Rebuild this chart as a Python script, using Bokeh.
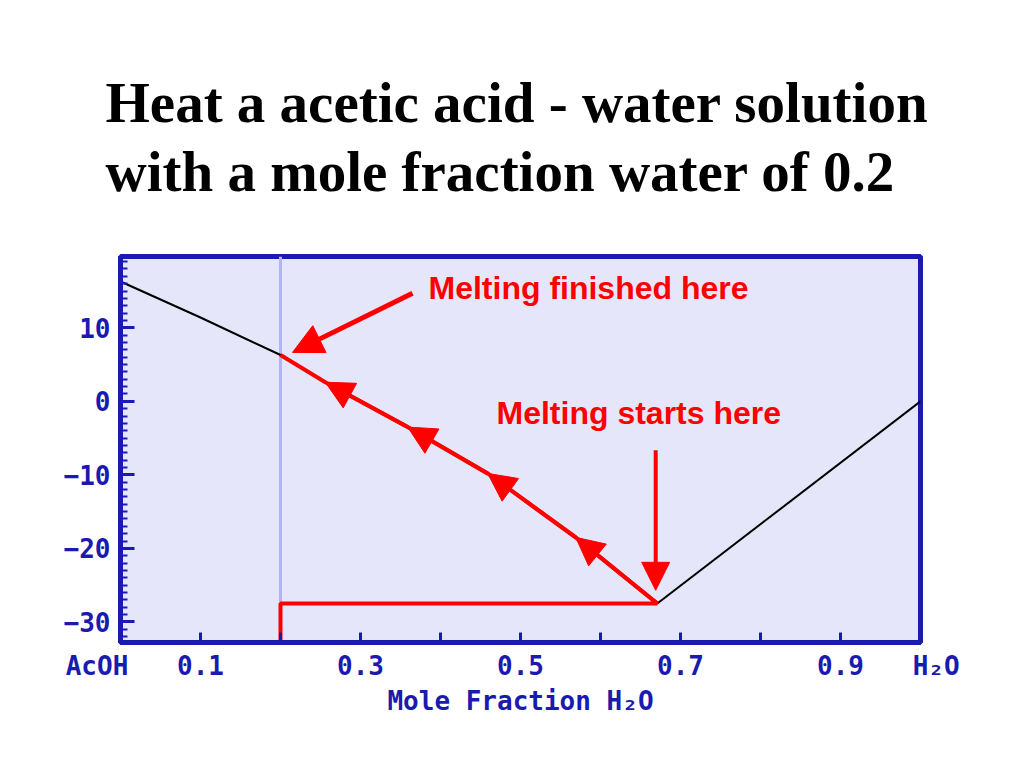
from bokeh.plotting import figure
from bokeh.models import (Range1d, FixedTicker, Title, Arrow, NormalHead, Span, Label)
from bokeh.embed import file_html
from bokeh.resources import INLINE

# ---- data ----
title_text = "Heat a acetic acid - water solution\nwith a mole fraction water of 0.2"
x_ticks = [0.0, 0.1, 0.2, 0.3, 0.4, 0.5, 0.6, 0.7, 0.8, 0.9, 1.0]
x_tick_labels = ["AcOH\u00a0\u00a0\u00a0", "0.1", "", "0.3", "", "0.5", "", "0.7", "", "0.9", "\u00a0\u00a0H\u2082O"]
y_ticks = [-30, -20, -10, 0, 10]
y_minor = list(range(-32, 20))

# liquidus, acetic acid side (x = mole fraction water, y = deg C)
liq_x = [0.0, 0.1, 0.2, 0.256, 0.359, 0.459, 0.569, 0.671]
liq_y = [16.3, 11.4, 6.3, 2.6, -3.5, -9.8, -18.5, -27.5]
# liquidus, water side
ice_x = [0.671, 1.0]
ice_y = [-27.5, 0.0]
# heating path for x(H2O) = 0.2
heat_x = [0.2, 0.2, 0.671, 0.569, 0.459, 0.359, 0.256, 0.2]
heat_y = [-32.8, -27.5, -27.5, -18.5, -9.8, -3.5, 2.6, 6.3]
head_idx = [3, 4, 5, 6]
composition = 0.2

# callouts
finish_text = "Melting finished here"
finish_pos = (0.385, 15.4)
finish_arrow = (0.365, 14.7, 0.215, 6.66)
start_text = "Melting starts here"
start_pos = (0.47, -1.65)
start_arrow = (0.669, -6.66, 0.669, -25.7)

NAVY = "#1a1ab0"
RED = "#ff0000"
MONO = "DejaVu Sans Mono"

title = Title(text=title_text, text_font="Liberation Serif", text_font_size="57px",
              text_font_style="bold", text_color="black", align="left", offset=-15,
              standoff=107, text_line_height=1.09)

p = figure(frame_width=800, frame_height=386,
           x_range=Range1d(0, 1), y_range=Range1d(-32.8, 19.7),
           output_backend="svg", toolbar_location=None, title=title,
           min_border_left=120, min_border_right=88, min_border_top=256, min_border_bottom=110,
           background_fill_color="#E6E6FA", border_fill_color="white",
           outline_line_color=NAVY, outline_line_width=5)
p.grid.visible = False

p.xaxis.ticker = FixedTicker(ticks=x_ticks, minor_ticks=[])
p.xaxis.major_label_overrides = {t: l for t, l in zip(x_ticks, x_tick_labels)}
p.yaxis.ticker = FixedTicker(ticks=y_ticks, minor_ticks=y_minor)

for ax in (p.xaxis[0], p.yaxis[0]):
    ax.axis_line_color = NAVY
    ax.axis_line_width = 5
    ax.major_tick_line_color = NAVY
    ax.major_tick_line_width = 3
    ax.major_tick_out = 0
    ax.minor_tick_line_color = NAVY
    ax.minor_tick_line_width = 2
    ax.minor_tick_out = 0
    ax.minor_tick_in = 7
    ax.major_label_text_font = MONO
    ax.major_label_text_font_size = "26px"
    ax.major_label_text_font_style = "bold"
    ax.major_label_text_color = NAVY

p.xaxis.major_tick_in = 10
p.yaxis.major_tick_in = 14
p.xaxis.major_label_standoff = 8
p.yaxis.major_label_standoff = 10
p.xaxis.axis_label = "Mole Fraction H\u2082O"
p.xaxis.axis_label_text_font = MONO
p.xaxis.axis_label_text_font_size = "26px"
p.xaxis.axis_label_text_font_style = "bold"
p.xaxis.axis_label_text_color = NAVY
p.xaxis.axis_label_standoff = 2

p.add_layout(Span(location=composition, dimension="height", line_color="#b4b4f5",
                  line_width=3, level="underlay"))

p.line(liq_x, liq_y, line_color="black", line_width=2)
p.line(ice_x, ice_y, line_color="black", line_width=2)
p.line(heat_x, heat_y, line_color=RED, line_width=4)

for i in head_idx:
    p.add_layout(Arrow(x_start=heat_x[i - 1], y_start=heat_y[i - 1],
                       x_end=heat_x[i], y_end=heat_y[i],
                       line_color=RED, line_width=4,
                       end=NormalHead(size=28, fill_color=RED, line_color=RED)))

p.add_layout(Arrow(x_start=finish_arrow[0], y_start=finish_arrow[1],
                   x_end=finish_arrow[2], y_end=finish_arrow[3],
                   line_color=RED, line_width=5,
                   end=NormalHead(size=30, fill_color=RED, line_color=RED)))
p.add_layout(Arrow(x_start=start_arrow[0], y_start=start_arrow[1],
                   x_end=start_arrow[2], y_end=start_arrow[3],
                   line_color=RED, line_width=4,
                   end=NormalHead(size=28, fill_color=RED, line_color=RED)))

for txt, pos in ((finish_text, finish_pos), (start_text, start_pos)):
    p.add_layout(Label(x=pos[0], y=pos[1], text=txt, text_font="Liberation Sans",
                       text_font_size="32px", text_font_style="bold", text_color=RED,
                       text_baseline="alphabetic"))

p.add_layout(Label(x=-0.085, y=16.2, text="\u00b0C", text_font="Liberation Sans",
                   text_font_size="26px", text_font_style="bold", text_color="black",
                   text_baseline="alphabetic"))

open("out.html", "w").write(file_html(p, INLINE))
